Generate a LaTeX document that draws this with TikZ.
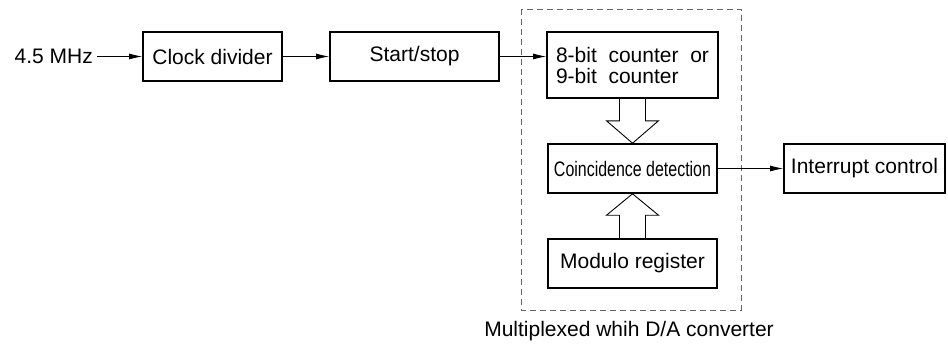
\documentclass[tikz,border=0pt]{standalone}
\usepackage{fontspec}
\usepackage{graphicx}
\setmainfont{Liberation Sans}
\usetikzlibrary{arrows.meta,calc}
\begin{document}
\begin{tikzpicture}[x=1pt,y=-1pt,
  every node/.style={font=\fontsize{21pt}{21pt}\selectfont},
  blk/.style={draw,line width=1.6pt,inner sep=0pt,minimum height=49pt},
  conn/.style={line width=0.9pt,-{Latex[length=13pt,width=6pt]}},
  hollow/.style={line width=0.9pt},
  group/.style={draw=black!60,line width=0.9pt,dash pattern=on 6pt off 4pt}]
\useasboundingbox (0,0) rectangle (948,345);
\draw[group] (521,9) rectangle (741,310);
\node (src) [anchor=east,inner sep=0pt] at (93,56.5) {4.5 MHz};
\node (clk) [blk,minimum width=139pt] at (212.5,56.5) {Clock divider};
\node (ss) [blk,minimum width=169pt] at (414.5,56.5) {Start/stop};
\node (cnt) [blk,minimum width=171pt,minimum height=66pt,align=left] at (632.5,65)
  {8-bit\hspace{11.7pt}counter\hspace{11.7pt}or\\9-bit\hspace{11.7pt}counter};
\node (coin) [blk,minimum width=169pt] at (632.5,168.5) {\scalebox{0.76}[1]{Coincidence detection}};
\node (mod) [blk,minimum width=169pt] at (632.5,263.5) {Modulo register};
\node (irq) [blk,minimum width=161pt] at (864.5,168.5) {Interrupt control};
\node (cap) at (629,331) {Multiplexed whih D/A converter};
\draw[conn] ([xshift=4pt]src.east) -- (clk.west);
\draw[conn] (clk.east) -- (ss.west);
\draw[conn] (ss.east) -- (ss.east -| cnt.west);
\draw[conn] (coin.east) -- (irq.west);
\draw[hollow] ($(cnt.south)+(-13,0)$) -- ($(cnt.south)+(-13,22)$) -- ($(cnt.south)+(-26,22)$)
  -- (coin.north) -- ($(cnt.south)+(26,22)$) -- ($(cnt.south)+(13,22)$) -- ($(cnt.south)+(13,0)$);
\draw[hollow] ($(mod.north)+(-13,0)$) -- ($(mod.north)+(-13,-23)$) -- ($(mod.north)+(-26,-23)$)
  -- (coin.south) -- ($(mod.north)+(26,-23)$) -- ($(mod.north)+(13,-23)$) -- ($(mod.north)+(13,0)$);
\end{tikzpicture}
\end{document}
